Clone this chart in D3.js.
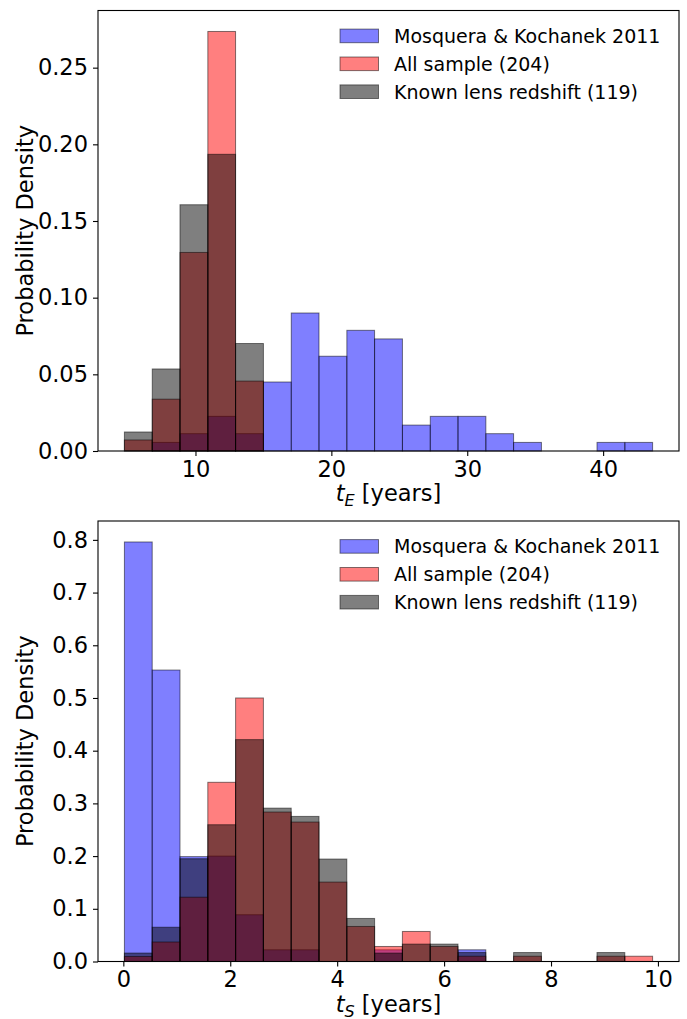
<!DOCTYPE html>
<html>
<head>
<meta charset="utf-8">
<script src="https://cdn.jsdelivr.net/npm/d3@7"></script>
<style>
  body { margin: 0; background: #fff; }
  svg { display: block; font-family: "DejaVu Sans", sans-serif; }
  .tick text { font-family: "DejaVu Sans", sans-serif; }
</style>
</head>
<body>
<div class="chart"></div>
<script>
// legend / series names
var seriesNames = ["Mosquera & Kochanek 2011", "All sample (204)", "Known lens redshift (119)"];
var seriesColors = ["rgba(0,0,255,0.5)", "rgba(255,0,0,0.5)", "rgba(0,0,0,0.5)"];

// top panel: Einstein time t_E (years)
var teBinEdges = [4.77, 6.82, 8.86, 10.91, 12.95, 15.00, 17.05, 19.09, 21.14, 23.18,
    25.23, 27.28, 29.32, 31.37, 33.41, 35.46, 37.51, 39.55, 41.60, 43.64];
var teMosquera = [0, 0.0056, 0.0113, 0.0226, 0.0113, 0.0450, 0.0900, 0.0618, 0.0787, 0.0731,
    0.0169, 0.0226, 0.0226, 0.0113, 0.0056, 0, 0, 0.0056, 0.0056];
var teAll = [0.0072, 0.0338, 0.1295, 0.2736, 0.0456, 0, 0, 0, 0, 0, 0, 0, 0, 0, 0, 0, 0, 0, 0];
var teKnown = [0.0124, 0.0535, 0.1606, 0.1935, 0.0701, 0, 0, 0, 0, 0, 0, 0, 0, 0, 0, 0, 0, 0, 0];
var teYTicks = [0, 0.05, 0.10, 0.15, 0.20, 0.25];
var teXTicks = [10, 20, 30, 40];

// bottom panel: source crossing time t_S (years)
var tsBinEdges = [0.02, 0.54, 1.06, 1.58, 2.10, 2.62, 3.14, 3.66, 4.18, 4.70,
    5.22, 5.74, 6.26, 6.78, 7.30, 7.82, 8.34, 8.86, 9.38, 9.90];
var tsMosquera = [0.796, 0.553, 0.199, 0.200, 0.0887, 0.0222, 0.0222, 0, 0, 0.0222,
    0, 0, 0.0222, 0, 0, 0, 0, 0, 0];
var tsAll = [0.0095, 0.037, 0.122, 0.340, 0.500, 0.2836, 0.2646, 0.1507, 0.0665, 0.0285,
    0.057, 0.0285, 0.0100, 0, 0.0100, 0, 0, 0.0100, 0.0100];
var tsKnown = [0.016, 0.065, 0.195, 0.2595, 0.421, 0.291, 0.2753, 0.1944, 0.0817, 0.016,
    0.033, 0.033, 0.017, 0, 0.017, 0, 0, 0.017, 0];
var tsYTicks = [0, 0.1, 0.2, 0.3, 0.4, 0.5, 0.6, 0.7, 0.8];
var tsXTicks = [0, 2, 4, 6, 8, 10];

var W = 687, H = 1019;

var svg = d3.select(".chart").append("svg")
    .attr("width", W)
    .attr("height", H);

drawPanel = (opts) => {
    var left = 98, right = 679, top = opts.top, bottom = opts.top + 440.5;

    var edges = opts.edges;
    var span = edges[edges.length - 1] - edges[0];
    var x = d3.scaleLinear()
        .domain([edges[0] - 0.05 * span, edges[edges.length - 1] + 0.05 * span])
        .range([left, right]);
    var ymax = d3.max(opts.series, (s) => d3.max(s)) * 1.05;
    var y = d3.scaleLinear()
        .domain([0, ymax])
        .range([bottom, top]);

    var g = svg.append("g");

    // bars: blue first, then red, then grey on top
    opts.series.forEach((vals, i) => {
        var bins = vals.map((v, j) => ({ x0: edges[j], x1: edges[j + 1], v: v }))
            .filter((d) => d.v > 0);
        g.append("g").selectAll("rect")
            .data(bins)
            .enter().append("rect")
            .attr("x", (d) => x(d.x0))
            .attr("width", (d) => x(d.x1) - x(d.x0))
            .attr("y", (d) => y(d.v))
            .attr("height", (d) => bottom - y(d.v))
            .attr("fill", seriesColors[i])
            .attr("stroke", "rgba(0,0,0,0.5)")
            .attr("stroke-width", 1);
    });

    // axes
    var yAxis = g.append("g")
        .attr("transform", "translate(" + left + ",0)")
        .call(d3.axisLeft(y).tickValues(opts.yTicks).tickFormat(d3.format(opts.yFmt))
            .tickSize(5).tickPadding(5));
    var xAxis = g.append("g")
        .attr("transform", "translate(0," + bottom + ")")
        .call(d3.axisBottom(x).tickValues(opts.xTicks).tickFormat(d3.format("d"))
            .tickSize(5).tickPadding(5));
    [xAxis, yAxis].forEach((a) => {
        a.select(".domain").remove();
        a.selectAll(".tick line").attr("stroke", "#000").attr("stroke-width", 1.1);
        a.selectAll(".tick text").attr("font-size", 22.5).attr("fill", "#000");
    });

    // frame
    g.append("rect")
        .attr("x", left)
        .attr("y", top)
        .attr("width", right - left)
        .attr("height", bottom - top)
        .attr("fill", "none")
        .attr("stroke", "#000")
        .attr("stroke-width", 1.1);

    // y label
    g.append("text")
        .attr("transform", "translate(33," + (top + bottom) / 2 + ") rotate(-90)")
        .attr("text-anchor", "middle")
        .attr("font-size", 22.5)
        .text("Probability Density");

    // x label with math subscript
    var xl = g.append("text")
        .attr("x", (left + right) / 2)
        .attr("y", bottom + 50)
        .attr("text-anchor", "middle")
        .attr("font-size", 22.5);
    xl.append("tspan").attr("font-style", "italic").text("t");
    xl.append("tspan").attr("font-style", "italic").attr("font-size", 16)
        .attr("dy", 5).text(opts.sub);
    xl.append("tspan").attr("dy", -5).text(" [years]");

    // legend
    var leg = g.append("g").attr("transform", "translate(340," + top + ")");
    seriesNames.forEach((name, i) => {
        var cy = 25.4 + i * 27.9;
        leg.append("rect")
            .attr("x", 0)
            .attr("y", cy - 6.8)
            .attr("width", 38.5)
            .attr("height", 13.6)
            .attr("fill", seriesColors[i])
            .attr("stroke", "rgba(0,0,0,0.5)")
            .attr("stroke-width", 1);
        leg.append("text")
            .attr("x", 54)
            .attr("y", cy)
            .attr("dy", "0.36em")
            .attr("font-size", 19)
            .text(name);
    });
}

drawPanel({
    top: 10.5,
    edges: teBinEdges,
    series: [teMosquera, teAll, teKnown],
    yTicks: teYTicks,
    yFmt: ".2f",
    xTicks: teXTicks,
    sub: "E"
});

drawPanel({
    top: 521,
    edges: tsBinEdges,
    series: [tsMosquera, tsAll, tsKnown],
    yTicks: tsYTicks,
    yFmt: ".1f",
    xTicks: tsXTicks,
    sub: "S"
});
</script>
</body>
</html>
